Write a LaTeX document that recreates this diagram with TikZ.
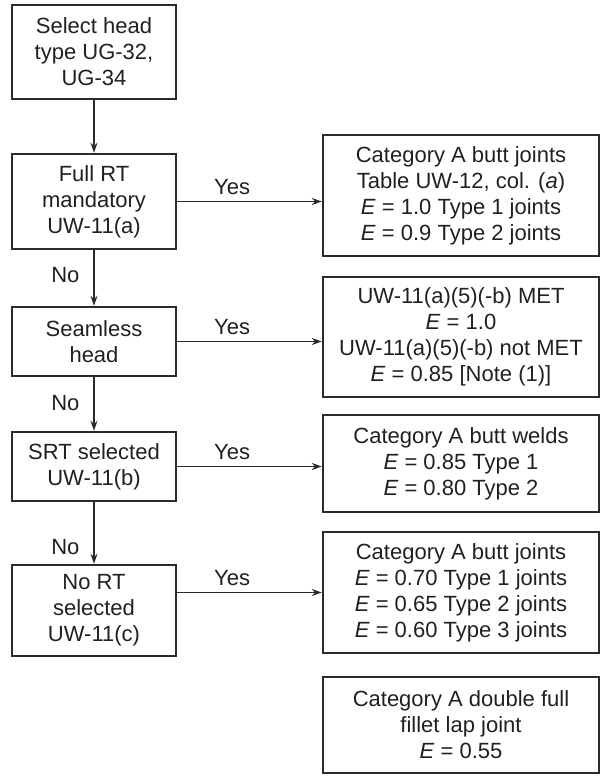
\documentclass[tikz,border=0pt]{standalone}
\usepackage{fontspec}
\setmainfont{Liberation Sans}
\usepackage{tikz}
\usetikzlibrary{arrows.meta}
\definecolor{lineColor}{HTML}{2B2B2B}
\definecolor{textColor}{HTML}{231F20}

\begin{document}
\begin{tikzpicture}[x=1pt, y=-1pt,
    every node/.style={text=textColor, font=\fontsize{22}{26}\selectfont},
    leftbox/.style={draw=lineColor, line width=2.5pt, align=center, minimum width=164pt, inner sep=0pt},
    rightbox/.style={draw=lineColor, line width=2.5pt, align=center, minimum width=276pt, inner sep=0pt},
    flow/.style={draw=lineColor, line width=1.1pt, -{Stealth[length=10pt,width=7pt]}},
    lbl/.style={inner sep=0pt}]
    \useasboundingbox (0,0) rectangle (600,776);
    \node[leftbox, minimum height=94pt] (select) at (94,52) {Select head\\type UG-32,\\UG-34};
    \node[leftbox, minimum height=95pt] (fullrt) at (94,201.5) {Full RT\\mandatory\\UW-11(a)};
    \node[leftbox, minimum height=69pt] (seamless) at (94,341.5) {Seamless\\head};
    \node[leftbox, minimum height=69pt] (srt) at (94,466.5) {SRT selected\\UW-11(b)};
    \node[leftbox, minimum height=91pt] (nort) at (94,610.5) {No RT\\selected\\UW-11(c)};
    \node[rightbox, minimum height=121pt] (catA) at (461,195.5)
        {Category A butt joints\\Table UW-12, col. (\textit{a})\\\textit{E} = 1.0 Type 1 joints\\\textit{E} = 0.9 Type 2 joints};
    \node[rightbox, minimum height=120pt] (seamE) at (461,337)
        {UW-11(a)(5)(-b) MET\\\textit{E} = 1.0\\UW-11(a)(5)(-b) not MET\\\textit{E} = 0.85 [Note (1)]};
    \node[rightbox, minimum height=97pt] (welds) at (461,463.5)
        {Category A butt welds\\\textit{E} = 0.85 Type 1\\\textit{E} = 0.80 Type 2};
    \node[rightbox, minimum height=121pt] (nortE) at (461,592.5)
        {Category A butt joints\\\textit{E} = 0.70 Type 1 joints\\\textit{E} = 0.65 Type 2 joints\\\textit{E} = 0.60 Type 3 joints};
    \node[rightbox, minimum height=96pt] (lapjoint) at (461,725)
        {Category A double full\\fillet lap joint\\\textit{E} = 0.55};
    \draw[flow] (select) -- (fullrt);
    \draw[flow] (fullrt) -- node[lbl, pos=.45, left=14pt] {No} (seamless);
    \draw[flow] (seamless) -- node[lbl, pos=.48, left=14pt] {No} (srt);
    \draw[flow] (srt) -- node[lbl, pos=.73, left=14pt] {No} (nort);
    \draw[flow] (fullrt.east) -- node[lbl, pos=.38, above=6pt] {Yes} (fullrt.east -| catA.west);
    \draw[flow] (seamless.east) -- node[lbl, pos=.38, above=6pt] {Yes} (seamless.east -| seamE.west);
    \draw[flow] (srt.east) -- node[lbl, pos=.38, above=6pt] {Yes} (srt.east -| welds.west);
    \draw[flow] (nortE.west -| nort.east) -- node[lbl, pos=.38, above=6pt] {Yes} (nortE.west);
\end{tikzpicture}
\end{document}
